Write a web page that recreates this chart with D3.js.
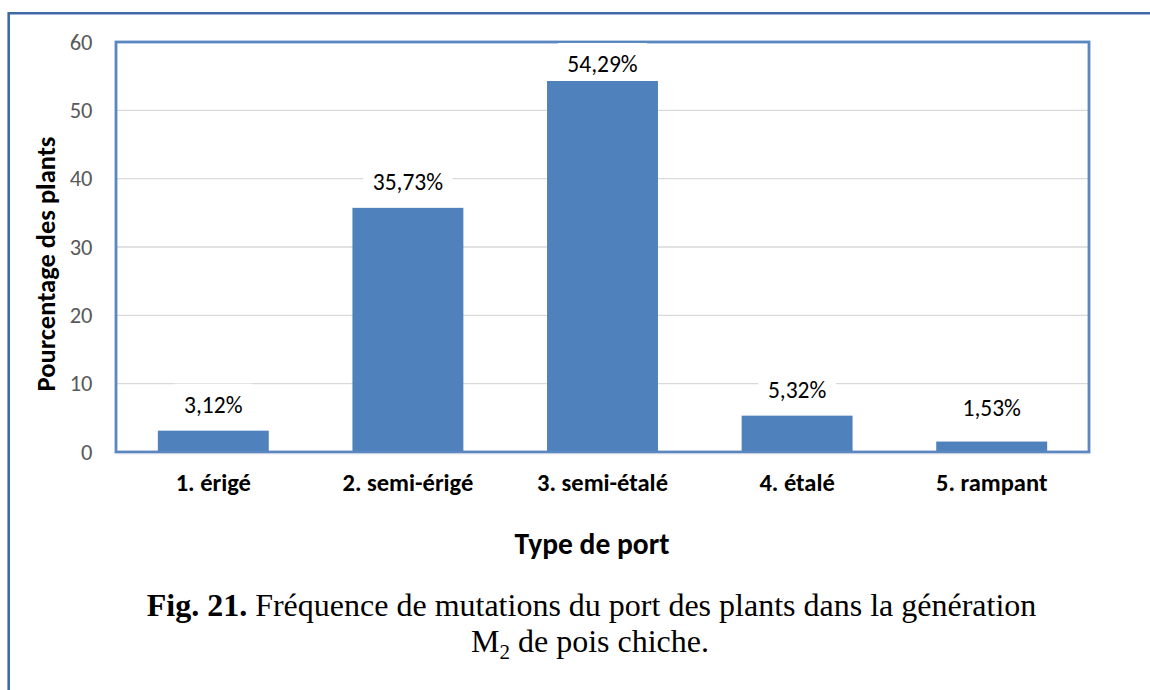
<!DOCTYPE html>
<html>
<head>
<meta charset="utf-8">
<script src="https://cdn.jsdelivr.net/npm/d3@7"></script>
<style>
  html, body { margin: 0; padding: 0; background: #ffffff; }
  svg { display: block; }
</style>
</head>
<body>
<svg id="chart" width="1150" height="690"></svg>
<script>
// Port types of chickpea plants and their share (%) in the M2 generation
const categories = ["1. érigé", "2. semi-érigé", "3. semi-étalé", "4. étalé", "5. rampant"];
const values = [3.12, 35.73, 54.29, 5.32, 1.53];
const valueLabels = ["3,12%", "35,73%", "54,29%", "5,32%", "1,53%"];
const yTicks = [0, 10, 20, 30, 40, 50, 60];

const svg = d3.select("#chart");
const W = 1150, H = 690;
const plot = { left: 116, right: 1089, top: 42, bottom: 452 };
const sansFont = "Calibri, Carlito, 'Open Sans', sans-serif";
const serif = "'Times New Roman', 'Liberation Serif', serif";

svg.append("rect").attr("width", W).attr("height", H).attr("fill", "#ffffff");

// outer frame (left and top edges)
svg.append("path")
  .attr("d", `M8.7,${H} L8.7,13.3 L${W},13.3`)
  .attr("fill", "none").attr("stroke", "#3f6aa6").attr("stroke-width", 2.6);

const x = d3.scaleBand().domain(categories).range([plot.left, plot.right])
  .paddingInner(0.43).paddingOuter(0.215);
const y = d3.scaleLinear().domain([0, 60]).range([plot.bottom, plot.top]);

// horizontal gridlines
svg.append("g").selectAll("line").data(yTicks.filter(t => t > 0 && t < 60)).join("line")
  .attr("x1", plot.left).attr("x2", plot.right)
  .attr("y1", d => y(d)).attr("y2", d => y(d))
  .attr("stroke", "#d9d9d9").attr("stroke-width", 1.3);

// y axis tick labels
const yAxis = d3.axisLeft(y).tickValues(yTicks).tickSize(0).tickPadding(23.5);
const gy = svg.append("g").attr("transform", `translate(${plot.left},0)`).call(yAxis);
gy.select(".domain").remove();
gy.selectAll("text").attr("font-family", sansFont).attr("font-size", 22.5).attr("fill", "#595959");

// bars
svg.append("g").selectAll("rect").data(values).join("rect")
  .attr("x", (d, i) => x(categories[i]))
  .attr("y", d => y(d))
  .attr("width", x.bandwidth())
  .attr("height", d => y(0) - y(d))
  .attr("fill", "#4f81bd");

// plot area border
svg.append("rect")
  .attr("x", plot.left).attr("y", plot.top)
  .attr("width", plot.right - plot.left).attr("height", plot.bottom - plot.top)
  .attr("fill", "none").attr("stroke", "#5b87c1").attr("stroke-width", 2.8);

// x axis baseline
svg.append("line")
  .attr("x1", plot.left).attr("x2", plot.right)
  .attr("y1", y(0) + 1.6).attr("y2", y(0) + 1.6)
  .attr("stroke", "#c9d3e3").attr("stroke-width", 1.2);

// value labels on white boxes, kept inside the plot and clear of the baseline
const labelY = d => Math.max(plot.top + 22, Math.min(y(d) - 26, 408));
const lbl = svg.append("g").selectAll("g").data(values).join("g")
  .attr("transform", (d, i) => `translate(${x(categories[i]) + x.bandwidth() / 2},${labelY(d)})`);
const lblBox = lbl.append("rect").attr("fill", "#ffffff");
const lblText = lbl.append("text")
  .attr("text-anchor", "middle").attr("dy", "0.35em")
  .attr("font-family", sansFont).attr("font-size", 23.5).attr("fill", "#000000")
  .text((d, i) => valueLabels[i]);
lblText.each(function (d, i) {
  const w = this.getComputedTextLength() + 19;
  d3.select(lblBox.nodes()[i])
    .attr("x", -w / 2).attr("y", -21).attr("width", w).attr("height", 36);
});

// category labels
const xAxis = d3.axisBottom(x).tickSize(0).tickPadding(22);
const gx = svg.append("g").attr("transform", `translate(0,${plot.bottom})`).call(xAxis);
gx.select(".domain").remove();
gx.selectAll("text").attr("font-family", sansFont).attr("font-size", 24.5)
  .attr("font-weight", "bold").attr("fill", "#000000");

// axis titles
svg.append("text")
  .attr("transform", `translate(46,264) rotate(-90)`)
  .attr("text-anchor", "middle").attr("dy", "0.35em")
  .attr("font-family", sansFont).attr("font-size", 26.5).attr("font-weight", "bold")
  .text("Pourcentage des plants");

svg.append("text")
  .attr("x", 592).attr("y", 554)
  .attr("text-anchor", "middle")
  .attr("font-family", sansFont).attr("font-size", 29.5).attr("font-weight", "bold")
  .text("Type de port");

// figure caption
const cap1 = svg.append("text")
  .attr("x", 591.5).attr("y", 616).attr("text-anchor", "middle")
  .attr("font-family", serif).attr("font-size", 32).attr("fill", "#000000");
cap1.append("tspan").attr("font-weight", "bold").text("Fig. 21.");
cap1.append("tspan").text(" Fréquence de mutations du port des plants dans la génération");

const cap2 = svg.append("text")
  .attr("x", 590).attr("y", 652).attr("text-anchor", "middle")
  .attr("font-family", serif).attr("font-size", 32).attr("fill", "#000000");
cap2.append("tspan").text("M");
cap2.append("tspan").attr("font-size", 21).attr("dy", 7).text("2");
cap2.append("tspan").attr("dy", -7).text(" de pois chiche.");
</script>
</body>
</html>
